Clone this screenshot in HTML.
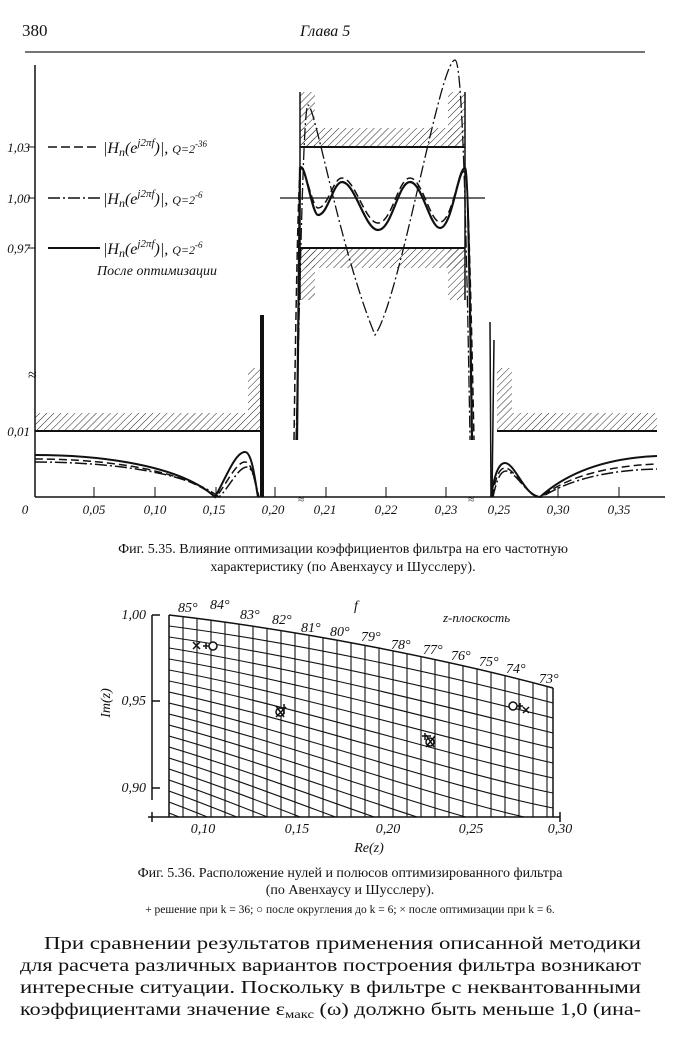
<!DOCTYPE html>
<html><head><meta charset="utf-8"><style>
body{margin:0;background:#fff;}
svg{display:block;}
text{font-family:"Liberation Serif",serif;fill:#111;}
.i{font-style:italic;}
</style></head><body>
<svg width="700" height="1048" viewBox="0 0 700 1048" xmlns="http://www.w3.org/2000/svg">
<defs>
<pattern id="h" width="5" height="5" patternUnits="userSpaceOnUse" patternTransform="rotate(45)">
<line x1="0" y1="0" x2="0" y2="5" stroke="#222" stroke-width="1"/>
</pattern>
</defs>
<text x="22" y="36" font-size="17">380</text>
<text x="300" y="36" font-size="16" class="i">Глава 5</text>
<line x1="25" y1="52" x2="645" y2="52" stroke="#222" stroke-width="1.2"/>

<g stroke="#111" fill="none">
<line x1="35" y1="65" x2="35" y2="497" stroke-width="1.5"/>
<line x1="35" y1="497" x2="665" y2="497" stroke-width="1.5"/>
<line x1="28" y1="147" x2="35" y2="147"/><line x1="28" y1="198" x2="35" y2="198"/><line x1="28" y1="248" x2="35" y2="248"/>
<line x1="94" y1="487" x2="94" y2="497"/><line x1="155" y1="487" x2="155" y2="497"/><line x1="216" y1="487" x2="216" y2="497"/><line x1="275" y1="487" x2="275" y2="497"/>
<line x1="326" y1="487" x2="326" y2="497"/><line x1="386" y1="487" x2="386" y2="497"/><line x1="446" y1="487" x2="446" y2="497"/>
<line x1="558" y1="487" x2="558" y2="497"/><line x1="619" y1="487" x2="619" y2="497"/>
</g>
<text x="28" y="380" font-size="16">≈</text>
<g font-size="13" class="i" text-anchor="end">
<text x="30" y="152">1,03</text><text x="30" y="203">1,00</text><text x="30" y="253">0,97</text><text x="30" y="436">0,01</text>
</g>
<g font-size="13" class="i" text-anchor="middle">
<text x="25" y="514">0</text><text x="94" y="514">0,05</text><text x="155" y="514">0,10</text><text x="214" y="514">0,15</text><text x="273" y="514">0,20</text>
<text x="325" y="514">0,21</text><text x="386" y="514">0,22</text><text x="446" y="514">0,23</text><text x="499" y="514">0,25</text><text x="558" y="514">0,30</text><text x="619" y="514">0,35</text>
<text x="301" y="503" font-size="11">≈</text><text x="471" y="503" font-size="11">≈</text>
</g>
<g stroke="#111" stroke-width="1.5">
<line x1="48" y1="147" x2="100" y2="147" stroke-dasharray="9,4"/>
<line x1="48" y1="198" x2="100" y2="198" stroke-dasharray="12,3,2,3"/>
<line x1="48" y1="248" x2="100" y2="248" stroke-width="2"/>
</g>
<g font-size="16" class="i">
<text x="103" y="153">|H<tspan font-size="12" dy="3">n</tspan><tspan dy="-3">(e</tspan><tspan font-size="11" dy="-7">j2πf</tspan><tspan dy="7">)|, </tspan><tspan font-size="12">Q=2</tspan><tspan font-size="9" dy="-6">-36</tspan></text>
<text x="103" y="204">|H<tspan font-size="12" dy="3">n</tspan><tspan dy="-3">(e</tspan><tspan font-size="11" dy="-7">j2πf</tspan><tspan dy="7">)|, </tspan><tspan font-size="12">Q=2</tspan><tspan font-size="9" dy="-6">-6</tspan></text>
<text x="103" y="254">|H<tspan font-size="12" dy="3">n</tspan><tspan dy="-3">(e</tspan><tspan font-size="11" dy="-7">j2πf</tspan><tspan dy="7">)|, </tspan><tspan font-size="12">Q=2</tspan><tspan font-size="9" dy="-6">-6</tspan></text>
<text x="97" y="275" font-size="14">После оптимизации</text>
</g>
<rect x="300" y="128" width="165" height="19" fill="url(#h)"/>
<rect x="300" y="248" width="165" height="20" fill="url(#h)"/>
<rect x="300" y="92" width="15" height="55" fill="url(#h)"/>
<rect x="300" y="248" width="15" height="52" fill="url(#h)"/>
<rect x="448" y="92" width="17" height="55" fill="url(#h)"/>
<rect x="448" y="248" width="17" height="52" fill="url(#h)"/>
<rect x="35" y="413" width="227" height="18" fill="url(#h)"/>
<rect x="248" y="368" width="14" height="45" fill="url(#h)"/>
<rect x="497" y="413" width="160" height="18" fill="url(#h)"/>
<rect x="497" y="368" width="15" height="45" fill="url(#h)"/>
<g stroke="#111" fill="none" stroke-width="1.5">
<line x1="300" y1="147" x2="465" y2="147" stroke-width="2"/>
<line x1="300" y1="248" x2="465" y2="248" stroke-width="2"/>
<line x1="280" y1="198" x2="485" y2="198" stroke-width="1.2"/>
<line x1="35" y1="431" x2="262" y2="431" stroke-width="2"/>
<line x1="497" y1="431" x2="657" y2="431" stroke-width="2"/>
<line x1="262" y1="315" x2="262" y2="497" stroke-width="4"/>
<line x1="300" y1="92" x2="300" y2="300"/><line x1="465" y1="92" x2="465" y2="300"/>
<line x1="490" y1="322" x2="491" y2="497"/><line x1="494" y1="340" x2="492" y2="497"/>
<path d="M297,440 C298,300 299,200 300,168 C305,160 312,215 318,215 C328,215 333,182 342,182 C355,182 365,230 378,230 C392,230 398,182 410,182 C422,182 430,228 440,228 C452,228 458,168 465,168 C468,168 470,300 472,440" stroke-width="2.2"/>
<path d="M294,440 C296,300 298,200 300,170 C305,163 312,208 318,208 C328,208 333,178 342,178 C355,178 365,223 378,223 C392,223 398,178 410,178 C422,178 430,222 440,222 C452,222 458,170 465,170 C468,170 471,300 474,440" stroke-dasharray="8,4"/>
<path d="M296,440 C300,300 303,105 308,105 C315,105 340,250 375,335 C400,300 440,60 455,60 C462,60 466,200 470,440" stroke-dasharray="12,3,2,3" stroke-width="1.3"/>
<path d="M35,455 C100,455 180,465 215,497 C225,480 235,452 245,452 C252,452 255,480 258,497" stroke-width="2"/>
<path d="M35,459 C100,459 180,468 216,497 C226,485 236,462 245,462 C252,462 255,482 258,497" stroke-dasharray="8,4"/>
<path d="M35,462 C100,462 185,470 219,497 C229,488 238,467 247,467 C253,467 256,485 259,497" stroke-dasharray="12,3,2,3"/>
<path d="M491,497 C495,470 500,463 505,463 C515,463 525,497 540,497 C570,470 610,458 657,456" stroke-width="2"/>
<path d="M492,497 C496,475 500,468 505,468 C515,468 526,497 541,497 C570,475 610,466 657,464" stroke-dasharray="8,4"/>
<path d="M493,497 C497,478 501,471 506,471 C516,471 527,497 542,497 C572,478 612,470 657,469" stroke-dasharray="12,3,2,3"/>
</g>
<g font-size="14" text-anchor="middle">
<text x="343" y="553">Фиг. 5.35. Влияние оптимизации коэффициентов фильтра на его частотную</text>
<text x="343" y="571">характеристику (по Авенхаусу и Шусслеру).</text>
</g>

<clipPath id="g"><path d="M169,615 C300,630 450,660 553,688 L553,817 L169,817 Z"/></clipPath>
<g clip-path="url(#g)" stroke="#111" stroke-width="1.1" fill="none">
<line x1="169" y1="600" x2="169" y2="817"/><line x1="183" y1="600" x2="183" y2="817"/><line x1="197" y1="600" x2="197" y2="817"/><line x1="211" y1="600" x2="211" y2="817"/><line x1="225" y1="600" x2="225" y2="817"/><line x1="239" y1="600" x2="239" y2="817"/><line x1="253" y1="600" x2="253" y2="817"/><line x1="267" y1="600" x2="267" y2="817"/><line x1="281" y1="600" x2="281" y2="817"/><line x1="295" y1="600" x2="295" y2="817"/><line x1="309" y1="600" x2="309" y2="817"/><line x1="323" y1="600" x2="323" y2="817"/><line x1="337" y1="600" x2="337" y2="817"/><line x1="351" y1="600" x2="351" y2="817"/><line x1="365" y1="600" x2="365" y2="817"/><line x1="379" y1="600" x2="379" y2="817"/><line x1="393" y1="600" x2="393" y2="817"/><line x1="407" y1="600" x2="407" y2="817"/><line x1="421" y1="600" x2="421" y2="817"/><line x1="435" y1="600" x2="435" y2="817"/><line x1="449" y1="600" x2="449" y2="817"/><line x1="463" y1="600" x2="463" y2="817"/><line x1="477" y1="600" x2="477" y2="817"/><line x1="491" y1="600" x2="491" y2="817"/><line x1="505" y1="600" x2="505" y2="817"/><line x1="519" y1="600" x2="519" y2="817"/><line x1="533" y1="600" x2="533" y2="817"/><line x1="547" y1="600" x2="547" y2="817"/>
<path d="M169,626 C300,643 450,676 553,703"/>
<path d="M169,637 C300,656 450,692 553,718"/>
<path d="M169,648 C300,669 450,708 553,733"/>
<path d="M169,659 C300,682 450,724 553,748"/>
<path d="M169,670 C300,695 450,740 553,763"/>
<path d="M169,681 C300,708 450,756 553,778"/>
<path d="M169,692 C300,721 450,772 553,793"/>
<path d="M169,703 C300,734 450,788 553,808"/>
<path d="M169,714 C300,747 450,804 553,823"/>
<path d="M169,725 C300,760 450,820 553,838"/>
<path d="M169,736 C300,773 450,836 553,853"/>
<path d="M169,747 C300,786 450,852 553,868"/>
<path d="M169,758 C300,799 450,868 553,883"/>
<path d="M169,769 C300,812 450,884 553,898"/>
<path d="M169,780 C300,825 450,900 553,913"/>
<path d="M169,791 C300,838 450,916 553,928"/>
<path d="M169,802 C300,851 450,932 553,943"/>
<path d="M169,813 C300,864 450,948 553,958"/>
</g>
<g stroke="#111" fill="none" stroke-width="1.5">
<path d="M169,615 C300,630 450,660 553,688" />
<line x1="169" y1="615" x2="169" y2="817"/>
<line x1="553" y1="688" x2="553" y2="817"/>
<line x1="152" y1="615" x2="152" y2="800"/>
<line x1="152" y1="615" x2="160" y2="615"/><line x1="152" y1="701" x2="160" y2="701"/><line x1="152" y1="788" x2="160" y2="788"/>
<line x1="148" y1="817" x2="560" y2="817"/>
<line x1="152" y1="812" x2="152" y2="822"/><line x1="560" y1="812" x2="560" y2="822"/>
<circle cx="213" cy="646" r="4" fill="#fff"/>
<path d="M193,642l7,7M200,642l-7,7M203,646h6M206,643v6"/>
<circle cx="280" cy="712" r="4" fill="#fff"/>
<path d="M276,706l8,11M286,707l-10,10M284,704v10"/>
<circle cx="430" cy="742" r="4" fill="#fff"/>
<path d="M426,735l8,12M435,736l-9,11M422,736h9M425,733v7"/>
<circle cx="513" cy="706" r="4" fill="#fff"/>
<path d="M517,706h6M520,703v6M523,707l6,6M529,707l-6,6"/>
</g>
<g font-size="14" class="i">
<text x="146" y="619" text-anchor="end">1,00</text><text x="146" y="705" text-anchor="end">0,95</text><text x="146" y="792" text-anchor="end">0,90</text>
<text x="203" y="833" text-anchor="middle">0,10</text><text x="297" y="833" text-anchor="middle">0,15</text><text x="388" y="833" text-anchor="middle">0,20</text><text x="471" y="833" text-anchor="middle">0,25</text><text x="560" y="833" text-anchor="middle">0,30</text>
<text x="369" y="852" text-anchor="middle">Re(z)</text>
<text x="110" y="703" text-anchor="middle" transform="rotate(-90 110 703)">Im(z)</text>
<text x="178" y="612">85°</text><text x="210" y="609">84°</text><text x="240" y="619">83°</text><text x="272" y="624">82°</text><text x="301" y="632">81°</text><text x="330" y="636">80°</text><text x="361" y="641">79°</text><text x="391" y="649">78°</text><text x="423" y="654">77°</text><text x="451" y="660">76°</text><text x="479" y="666">75°</text><text x="506" y="673">74°</text><text x="539" y="683">73°</text>
<text x="354" y="610">f</text>
<text x="443" y="622" font-size="13">z-плоскость</text>
</g>
<g font-size="14" text-anchor="middle">
<text x="350" y="877">Фиг. 5.36. Расположение нулей и полюсов оптимизированного фильтра</text>
<text x="350" y="894">(по Авенхаусу и Шусслеру).</text>
<text x="350" y="913" font-size="11.5">+ решение при k = 36; ○ после округления до k = 6; × после оптимизации при k = 6.</text>
</g>
<g font-size="18">
<text x="44" y="949" textLength="597" lengthAdjust="spacingAndGlyphs">При сравнении результатов  применения описанной методики</text>
<text x="20" y="971" textLength="621" lengthAdjust="spacingAndGlyphs">для расчета различных вариантов построения фильтра возникают</text>
<text x="20" y="993" textLength="621" lengthAdjust="spacingAndGlyphs">интересные ситуации. Поскольку в фильтре с неквантованными</text>
<text x="20" y="1015" textLength="621" lengthAdjust="spacingAndGlyphs">коэффициентами значение ε<tspan font-size="12" dy="3">макс</tspan><tspan dy="-3"> (ω) должно быть меньше 1,0 (ина-</tspan></text>
</g>
</svg>
</body></html>
